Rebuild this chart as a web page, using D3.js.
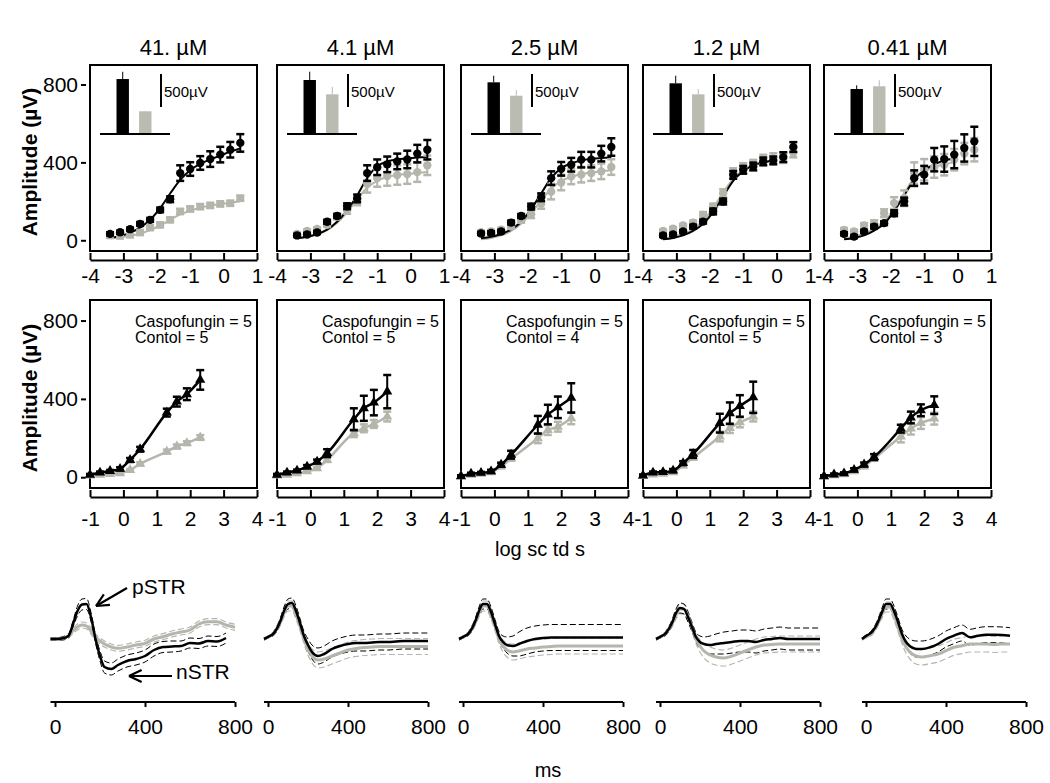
<!DOCTYPE html>
<html><head><meta charset="utf-8">
<script src="https://cdn.jsdelivr.net/npm/d3@7"></script>
<style>
body{margin:0;background:#fff}
svg text{font-family:Arial,"Liberation Sans",sans-serif;fill:#000}
</style></head>
<body><svg id="c" width="1050" height="783"></svg>
<script>
// ---------------- DATA ----------------
const concLabels = ["41. µM","4.1 µM","2.5 µM","1.2 µM","0.41 µM"];
const nCasp = [5,5,5,5,5];
const nCtrl = [5,5,4,5,3];

// Top row: scotopic intensity-response (log sc td s)
const scotX = [-3.4,-3.1,-2.8,-2.5,-2.2,-1.9,-1.6,-1.3,-1.0,-0.7,-0.4,-0.1,0.2,0.5];
const scotBlack = [
 [33,41,57,84,105,156,211,345,366,397,417,440,465,500],
 [25,30,40,95,125,175,215,345,375,390,405,415,445,465],
 [35,38,45,91,125,173,221,319,367,388,414,414,445,479],
 [25,30,45,70,96,148,199,336,362,379,405,410,427,479],
 [33,19,45,70,88,139,199,319,337,414,417,440,474,508]
];
const scotBlackSem = [
 [8,8,8,10,10,12,15,40,35,35,40,40,40,45],
 [8,8,8,10,10,15,20,40,40,40,40,45,45,50],
 [8,8,8,10,10,15,20,35,35,35,40,40,40,45],
 [8,8,8,10,10,15,15,20,20,20,20,20,25,25],
 [8,8,8,10,10,15,20,40,45,60,65,70,70,75]
];
const scotGray = [
 [25,22,28,40,65,79,105,148,161,173,179,187,190,216],
 [33,48,58,79,122,156,205,290,320,330,335,340,350,385],
 [41,45,55,70,105,134,187,250,297,328,337,345,354,376],
 [48,60,76,91,130,173,242,345,371,388,414,422,422,451],
 [53,45,76,88,139,191,216,345,362,376,388,414,445,465]
];
const scotGraySem = [
 [6,6,6,6,8,8,10,12,12,12,12,12,12,12],
 [8,8,8,10,15,20,25,45,45,50,50,50,50,50],
 [8,8,8,10,15,20,25,40,40,40,40,40,40,40],
 [8,8,8,10,15,15,20,25,25,25,25,25,25,25],
 [10,10,12,15,20,30,40,55,55,55,55,55,55,60]
];
const scotBlackFit = [
 [12,22,38,65,105,165,240,310,360,392,415,435,455,472],
 [10,18,32,55,95,155,230,320,380,405,415,420,425,428],
 [10,18,32,55,95,160,240,320,370,395,410,418,422,425],
 [5,12,25,48,85,145,225,305,355,385,400,410,null,null],
 [5,12,25,50,85,150,230,310,360,390,410,420,null,null]
];
const scotGrayFit = [
 [10,15,23,35,52,76,105,133,152,167,178,186,193,200],
 [10,18,30,52,90,145,210,270,305,325,335,340,345,350],
 [5,12,25,48,85,140,205,265,305,325,340,348,354,360],
 [10,18,32,58,100,165,245,315,360,385,400,410,null,null],
 [10,20,35,58,95,160,240,320,355,375,390,400,null,null]
];
// Inset bars (pSTR amplitude, µV)
const insetBlack = [833,818,783,768,682];
const insetBlackErr = [110,126,100,115,56];
const insetGray = [344,601,580,601,723];
const insetGrayErr = [8,115,86,80,91];

// Middle row: photopic intensity-response
const photX = [-1.0,-0.7,-0.4,-0.1,0.2,0.5,1.3,1.6,1.9,2.3];
const photBlack = [
 [12,24,32,43,88,143,330,386,424,497],
 [12,24,34,54,80,123,296,352,381,437],
 [5,18,22,30,64,115,268,320,357,405],
 [9,24,26,34,72,119,276,327,364,408],
 [5,14,20,38,65,103,248,305,342,368]
];
const photBlackSem = [
 [5,5,5,8,10,12,20,25,30,50],
 [5,5,5,8,10,20,56,64,65,85],
 [5,5,5,8,10,20,45,50,55,75],
 [5,5,5,8,10,20,48,55,55,80],
 [5,5,5,8,10,15,20,30,30,45]
];
const photGray = [
 [8,12,16,20,37,68,131,157,174,203],
 [8,12,20,30,46,88,225,250,272,310],
 [5,12,18,25,55,95,199,241,258,301],
 [6,14,18,25,60,100,208,251,280,310],
 [5,10,15,30,55,95,208,248,277,299]
];
const photGraySem = [
 [3,3,3,4,5,8,10,10,10,12],
 [5,5,5,5,8,10,20,20,20,25],
 [5,5,5,5,8,10,25,25,25,30],
 [5,5,5,5,8,10,25,25,25,25],
 [5,5,5,5,8,10,30,30,30,30]
];

// Bottom row: STR waveforms (ms, µV)
const waveT = [-20,0,30,60,80,100,120,140,160,180,200,220,250,280,320,360,400,440,480,520,560,600,640,680,720,760,800];
const waveBlack = [
 [0,0,5,30,150,280,345,350,220,0,-170,-280,-300,-260,-220,-200,-170,-110,-80,-75,-70,-40,-45,-20,-25,10,null],
 [0,20,60,170,280,350,360,280,160,30,-60,-130,-170,-150,-100,-70,-50,-40,-40,-35,-30,-30,-25,-20,-20,-20,-20],
 [0,20,60,170,280,350,350,270,150,30,-30,-60,-70,-50,-20,0,10,15,15,15,15,15,15,15,15,15,15],
 [0,20,60,160,260,310,300,220,120,20,-30,-50,-60,-50,-40,-30,-20,-20,-30,-10,0,10,0,0,0,0,0],
 [0,30,70,170,270,350,350,280,170,50,-30,-73,-100,-100,-83,-50,0,33,60,17,33,43,43,40,33,null,null]
];
const waveBlackSem = [
 [10,10,15,20,30,50,55,55,45,40,50,60,60,60,60,60,60,60,55,55,50,50,50,50,50,50,null],
 [10,10,20,30,40,50,50,50,45,45,60,70,80,80,80,80,80,80,80,80,80,80,80,80,80,80,80],
 [10,10,20,30,40,50,50,50,45,45,60,80,100,120,130,130,130,130,130,130,130,130,130,130,130,130,130],
 [10,10,20,30,40,50,50,50,45,45,60,70,90,100,110,110,110,110,110,110,110,110,110,110,110,110,110],
 [10,10,20,30,40,50,50,50,45,45,60,70,80,80,80,80,80,80,80,80,80,80,80,80,80,null,null]
];
const waveGray = [
 [0,0,5,30,80,120,140,130,80,20,-20,-50,-80,-93,-80,-60,-43,0,23,50,70,90,150,173,173,140,117],
 [0,20,60,160,260,330,330,250,130,0,-100,-170,-210,-200,-170,-140,-110,-95,-85,-80,-75,-75,-75,-75,-75,-75,-75],
 [0,20,60,160,260,330,330,250,130,0,-70,-110,-130,-120,-100,-90,-80,-75,-70,-70,-70,-70,-70,-70,-70,-70,-70],
 [0,20,60,150,240,300,300,230,120,0,-70,-120,-160,-180,-190,-170,-140,-110,-80,-60,-55,-50,-50,-50,-50,-50,-50],
 [0,20,60,160,250,320,320,240,120,0,-80,-130,-170,-180,-167,-150,-117,-83,-67,-50,-50,-50,-55,-50,-50,null,null]
];
const waveGraySem = [
 [10,10,15,20,25,30,30,30,30,30,30,30,30,30,30,30,30,30,30,30,30,30,30,30,30,30,30],
 [10,10,20,30,40,50,50,50,45,45,60,70,80,80,80,80,80,80,80,80,80,80,80,80,80,80,80],
 [10,10,20,30,40,50,50,50,45,45,60,70,80,80,80,80,80,80,80,80,80,80,80,80,80,80,80],
 [10,10,20,30,40,50,50,50,45,45,60,70,80,80,80,80,80,80,80,80,80,80,80,80,80,80,80],
 [10,10,20,30,40,50,50,50,45,45,60,70,80,80,80,80,80,80,80,80,80,80,80,80,80,null,null]
];

// ---------------- LAYOUT ----------------
const BLACK = "#000", GRAY = "#b4b6ac", BARGRAY = "#babbb1";
const svg = d3.select("#c");
const panelLeft = [90,277,461,643,824], panelW = 167;
const topRow = {top:65, bottom:251}, midRow = {top:300, bottom:488};
const waveZero = [55,268,463,660,866], wavePx = [0.225,0.2,0.2,0.2,0.2];
const waveBase = 639, waveAxisY = 702;

function frame(g, L, row){
  g.append("rect").attr("x",L).attr("y",row.top).attr("width",panelW)
   .attr("height",row.bottom-row.top).attr("fill","none").attr("stroke","#000").attr("stroke-width",2);
}
function yAxis(g, L, y){
  const ax = d3.axisLeft(y).tickValues([0,400,800]).tickSizeInner(5).tickSizeOuter(0).tickPadding(3);
  const a = g.append("g").attr("transform",`translate(${L-4},0)`).call(ax);
  a.select(".domain").remove();
  a.selectAll("line").attr("stroke","#000").attr("stroke-width",2);
  a.selectAll("text").style("font-size","21px");
}
function xAxis(g, x, yPos, ticks, pad){
  const ax = d3.axisBottom(x).tickValues(ticks).tickSizeInner(-7).tickSizeOuter(0).tickPadding(pad)
     .tickFormat(d=>d3.format("d")(d).replace("−","-"));
  const a = g.append("g").attr("transform",`translate(0,${yPos})`).call(ax);
  a.select(".domain").attr("stroke","#000").attr("stroke-width",2);
  a.selectAll("line").attr("stroke","#000").attr("stroke-width",2);
  a.selectAll("text").style("font-size","21px");
}
function errbars(g, xs, ms, ss, x, y, color){
  xs.forEach((xv,i)=>{
    const cx = x(xv), y1 = y(ms[i]+ss[i]), y2 = y(ms[i]-ss[i]);
    g.append("line").attr("x1",cx).attr("x2",cx).attr("y1",y1).attr("y2",y2).attr("stroke",color).attr("stroke-width",2);
    [y1,y2].forEach(yy=>g.append("line").attr("x1",cx-4).attr("x2",cx+4).attr("y1",yy).attr("y2",yy).attr("stroke",color).attr("stroke-width",2.5));
  });
}
function markers(g, xs, ms, x, y, color, type, size){
  g.selectAll(null).data(xs).enter().append("path")
   .attr("transform",(d,i)=>`translate(${x(d)},${y(ms[i])})`)
   .attr("d",d3.symbol().type(type).size(size)).attr("fill",color);
}
function curve(g, xs, vs, x, y, color, w, dash){
  const ln = d3.line().defined(d=>d[1]!=null).x(d=>x(d[0])).y(d=>y(d[1])).curve(d3.curveMonotoneX);
  g.append("path").datum(xs.map((d,i)=>[d,vs[i]])).attr("d",ln).attr("fill","none")
   .attr("stroke",color).attr("stroke-width",w).attr("stroke-dasharray",dash||null)
   .attr("stroke-linejoin","round");
}

// titles
concLabels.forEach((t,i)=>{
  svg.append("text").attr("x",panelLeft[i]+panelW/2).attr("y",55).attr("text-anchor","middle")
   .style("font-size","22px").text(t);
});

// y titles
[[162],[398]].forEach(([cy])=>{
  svg.append("text").attr("transform",`translate(37,${cy}) rotate(-90)`).attr("text-anchor","middle")
   .style("font-size","21px").style("font-weight","bold").text("Amplitude (µV)");
});

// ---------- top row ----------
for(let p=0;p<5;p++){
  const L = panelLeft[p];
  const g = svg.append("g");
  const x = d3.scaleLinear().domain([-4,1]).range([L,L+panelW]);
  const y = d3.scaleLinear().domain([-55,900]).range([topRow.bottom,topRow.top]);
  frame(g,L,topRow);
  if(p===0) yAxis(g,L,y);
  xAxis(g,x,topRow.bottom+9,[-4,-3,-2,-1,0,1],8);
  // inset bar chart
  const yb = d3.scaleLinear().domain([0,500]).range([134,101]);
  const xb = d3.scaleBand().domain(["b","g"]).range([L+22,L+66]).paddingInner(0.45).paddingOuter(0.2);
  const bars = [["b",insetBlack[p],insetBlackErr[p],BLACK],["g",insetGray[p],insetGrayErr[p],BARGRAY]];
  bars.forEach(([k,v,e,c])=>{
    g.append("rect").attr("x",xb(k)).attr("width",xb.bandwidth()).attr("y",yb(v)).attr("height",yb(0)-yb(v)).attr("fill",c);
    g.append("line").attr("x1",xb(k)+xb.bandwidth()/2).attr("x2",xb(k)+xb.bandwidth()/2)
     .attr("y1",yb(v)).attr("y2",yb(v+e)).attr("stroke",c).attr("stroke-width",1);
  });
  g.append("line").attr("x1",L+10).attr("x2",L+80).attr("y1",yb(0)).attr("y2",yb(0)).attr("stroke","#000").attr("stroke-width",2);
  g.append("line").attr("x1",L+71).attr("x2",L+71).attr("y1",yb(500)-27).attr("y2",yb(500)+6).attr("stroke","#000").attr("stroke-width",2);
  g.append("text").attr("x",L+74).attr("y",97).style("font-size","15px").text("500µV");
  // data
  curve(g,scotX,scotGrayFit[p],x,y,GRAY,2);
  curve(g,scotX,scotBlackFit[p],x,y,BLACK,2);
  errbars(g,scotX,scotGray[p],scotGraySem[p],x,y,GRAY);
  markers(g,scotX,scotGray[p],x,y,GRAY,p===0?d3.symbolSquare:d3.symbolCircle,p===0?60:55);
  errbars(g,scotX,scotBlack[p],scotBlackSem[p],x,y,BLACK);
  markers(g,scotX,scotBlack[p],x,y,BLACK,d3.symbolCircle,55);
}

// ---------- middle row ----------
for(let p=0;p<5;p++){
  const L = panelLeft[p];
  const g = svg.append("g");
  const x = d3.scaleLinear().domain([-1,4]).range([L,L+panelW]);
  const y = d3.scaleLinear().domain([-55,905]).range([midRow.bottom,midRow.top]);
  frame(g,L,midRow);
  if(p===0) yAxis(g,L,y);
  xAxis(g,x,midRow.bottom+9,[-1,0,1,2,3,4],14);
  g.append("text").attr("x",L+45).attr("y",327).style("font-size","16px").text(`Caspofungin = ${nCasp[p]}`);
  g.append("text").attr("x",L+45).attr("y",343).style("font-size","16px").text(`Contol = ${nCtrl[p]}`);
  curve(g,photX,photGray[p],x,y,GRAY,2.5);
  errbars(g,photX,photGray[p],photGraySem[p],x,y,GRAY);
  markers(g,photX,photGray[p],x,y,GRAY,d3.symbolTriangle,45);
  curve(g,photX,photBlack[p],x,y,BLACK,2.5);
  errbars(g,photX,photBlack[p],photBlackSem[p],x,y,BLACK);
  markers(g,photX,photBlack[p],x,y,BLACK,d3.symbolTriangle,45);
}
svg.append("text").attr("x",540).attr("y",556).attr("text-anchor","middle").style("font-size","20px").text("log sc td s");

// ---------- bottom row ----------
for(let p=0;p<5;p++){
  const g = svg.append("g");
  const x = d3.scaleLinear().domain([0,800]).range([waveZero[p],waveZero[p]+800*wavePx[p]]);
  const y = d3.scaleLinear().domain([0,500]).range([waveBase,waveBase-50]);
  const up = (m,s)=>m.map((v,i)=>v==null?null:v+s[i]);
  const dn = (m,s)=>m.map((v,i)=>v==null?null:v-s[i]);
  curve(g,waveT,up(waveGray[p],waveGraySem[p]),x,y,GRAY,1.2,"6,3");
  curve(g,waveT,dn(waveGray[p],waveGraySem[p]),x,y,GRAY,1.2,"6,3");
  curve(g,waveT,up(waveBlack[p],waveBlackSem[p]),x,y,BLACK,1,"6,3");
  curve(g,waveT,dn(waveBlack[p],waveBlackSem[p]),x,y,BLACK,1,"6,3");
  curve(g,waveT,waveGray[p],x,y,GRAY,3);
  curve(g,waveT,waveBlack[p],x,y,BLACK,2.5);
  const ax = d3.axisBottom(x).tickValues([0,400,800]).tickSizeInner(5).tickSizeOuter(0).tickPadding(12);
  const a = g.append("g").attr("transform",`translate(0,${waveAxisY})`).call(ax);
  a.select(".domain").attr("d",`M${x(-20)},0H${x(800)}`).attr("stroke","#000").attr("stroke-width",2);
  a.selectAll("line").attr("stroke","#000").attr("stroke-width",2);
  a.selectAll("text").style("font-size","21px");
}
svg.append("text").attr("x",548).attr("y",777).attr("text-anchor","middle").style("font-size","20px").text("ms");

// arrows in first waveform panel
function arrow(x1,y1,x2,y2){
  const ang = Math.atan2(y2-y1,x2-x1), h=14, s=0.45;
  const g = svg.append("g").attr("stroke","#000").attr("stroke-width",2.2).attr("fill","none");
  g.append("line").attr("x1",x1).attr("y1",y1).attr("x2",x2).attr("y2",y2);
  [s,-s].forEach(d=>g.append("line").attr("x1",x2).attr("y1",y2)
     .attr("x2",x2-h*Math.cos(ang+d)).attr("y2",y2-h*Math.sin(ang+d)));
}
arrow(127,588,96,606);
arrow(172,676,129,676);
svg.append("text").attr("x",132).attr("y",594).style("font-size","21px").text("pSTR");
svg.append("text").attr("x",176).attr("y",679).style("font-size","21px").text("nSTR");
</script></body></html>
